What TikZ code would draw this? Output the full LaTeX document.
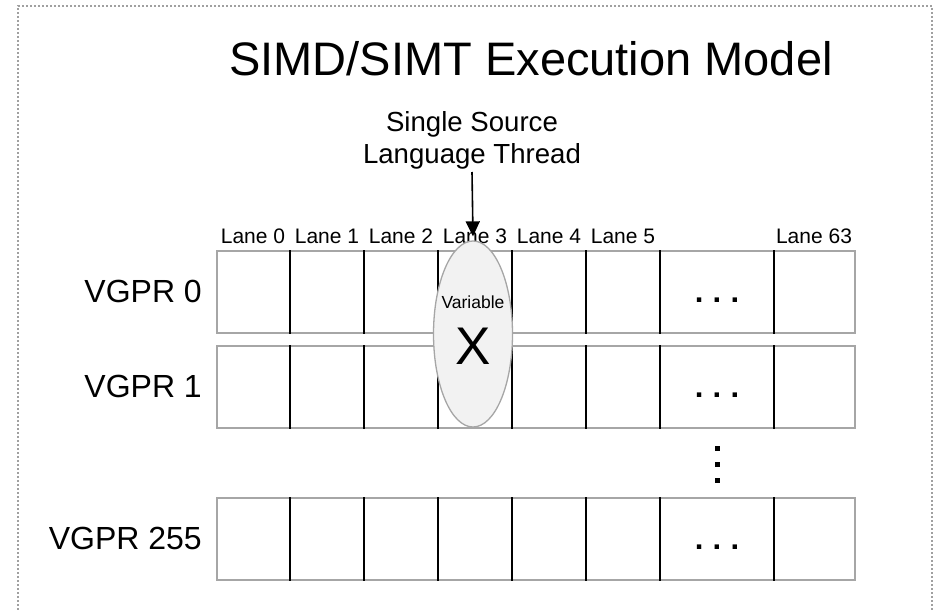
\documentclass[tikz,border=0pt]{standalone}
\usepackage{fontspec}
\setmainfont{Liberation Sans}
\usetikzlibrary{arrows.meta, positioning, shapes.geometric}
\definecolor{SMgrey}{HTML}{A6A6A6}
\definecolor{SMframe}{HTML}{A0A0A0}
\definecolor{SMfill}{HTML}{F2F2F2}
\tikzset{
  smrow/.style={rectangle, draw=SMgrey, line width=1.6pt, fill=white,
    minimum width=638pt, minimum height=82pt, inner sep=0pt, anchor=north west},
  smdiv/.style={line width=1.6pt, draw=black},
  smreg/.style={font=\fontsize{32}{36}\selectfont, inner sep=0pt},
  smlane/.style={font=\fontsize{21}{25}\selectfont, inner sep=0pt, anchor=base},
  smdots/.style={font=\fontsize{31}{36}\selectfont\bfseries, inner sep=0pt, anchor=base},
  smdot/.style={rectangle, fill=black, minimum size=5pt, inner sep=0pt},
  smvar/.style={ellipse, draw=SMgrey, fill=SMfill, line width=1.3pt,
    minimum width=79pt, minimum height=186pt, inner sep=0pt},
  smarr/.style={-{Triangle[length=15pt,width=14pt]}, line width=1.6pt, draw=black},
  smframe/.style={draw=SMframe, line width=2pt, dash pattern=on 2pt off 2pt},
}
\newcommand{\hdots}{.\hspace{9.2pt}.\hspace{9.2pt}.}
\begin{document}
\begin{tikzpicture}[x=1pt, y=-1pt]
  \useasboundingbox (0,0) rectangle (945,610);
  % page frame, open at the bottom
  \draw[smframe] (18,614) -- (18,6) -- (932,6) -- (932,614);

  \node[anchor=base, inner sep=0pt, font=\fontsize{47}{56}\selectfont] (title) at (531,76) {SIMD/SIMT Execution Model};

  % register rows
  \node[smrow] (r0) at (216,250) {};
  \node[smrow] (r1) at (216,345) {};
  \node[smrow] (r255) at (216,497) {};
  \foreach \r in {r0,r1,r255} {
    \foreach \dx in {74,148,222,296,370,444,558}
      \draw[smdiv] ([xshift=\dx pt]\r.north west) -- ([xshift=\dx pt]\r.south west);
    \node[smdots] at (717,0 |- \r.center) [yshift=-11pt] {\hdots};
  }
  \node[smreg, left=14pt of r0] (v0) {VGPR 0};
  \node[smreg, left=14pt of r1] (v1) {VGPR 1};
  \node[smreg, left=14pt of r255] (v255) {VGPR 255};

  % vertical ellipsis between the rows
  \foreach \y [count=\k] in {448,464,480}
    \node[smdot] (vdot\k) at (717,\y) {};

  % lane headers
  \foreach \i/\x in {0/253,1/327,2/401,3/475,4/549,5/623}
    \node[smlane] (lane\i) at (\x,243) {Lane \i};
  \node[smlane] (lane63) at (814,243) {Lane 63};

  % one variable of one thread
  \node[smvar] (thread) at (473,334) {};
  \node[anchor=base, inner sep=0pt, font=\fontsize{17.5}{20}\selectfont] (var) at (473,308) {Variable};
  \node[anchor=base, inner sep=0pt, font=\fontsize{53}{60}\selectfont] (xvar) at (473,364) {X};

  \node[anchor=south, align=center, inner sep=0pt, font=\fontsize{27.6}{32}\selectfont] (src) at (472,169) {Single Source\\Language Thread};
  \draw[smarr] ([yshift=-3pt]src.south) -- ([yshift=4pt]thread.north);
\end{tikzpicture}
\end{document}
